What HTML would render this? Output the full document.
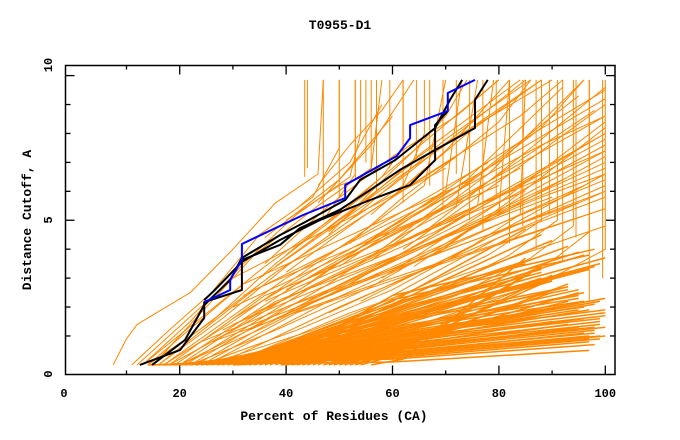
<!DOCTYPE html>
<html><head><meta charset="utf-8"><style>
html,body{margin:0;padding:0;background:#fff;}
svg{display:block;}
text{font-family:"Liberation Mono",monospace;font-weight:bold;fill:#000;}
</style></head><body>
<svg id="chart" width="680" height="440" viewBox="0 0 680 440" xmlns="http://www.w3.org/2000/svg">
<rect x="0" y="0" width="680" height="440" fill="#fff"/>
<text x="340" y="29" font-size="13" text-anchor="middle">T0955-D1</text>
<text x="334" y="420" font-size="13" text-anchor="middle">Percent of Residues (CA)</text>
<text x="31" y="220" font-size="13" text-anchor="middle" transform="rotate(-90 31 220)">Distance Cutoff, A</text>
<g id="series"></g>
<g id="axes"></g>
</svg>
<script>
const xTickValues = [0,10,20,30,40,50,60,70,80,90,100];
const xTickLabels = ["0","20","40","60","80","100"];
const xTickLabelValues = [0,20,40,60,80,100];
const yTickValues = [0,1,2,3,4,5,6,7,8,9,10];
const yTickLabels = ["0","5","10"];
const lowerStarts = [14,15,15,16,16,17,17,18,18,19,19,20,20,21,21,22,22,23,23,24,24,25,25,26,26,27,27,28,28,29,30,30,31,32,33,34,35,36,37,38,39,40,42,44,46,48,50,52,54,56,15,17,19,21,23,25,27,29,31,33,35,37,39,41,43,45,47,49,51,53];
const lowerMid = [0.1,0.2,0.3,0.35,0.4,0.5,0.55,0.6,0.7,0.75,0.8,0.9,0.95,1.0,1.1,1.15,1.2,1.3,1.35,1.4,1.5,1.55,1.6,1.7,1.75,1.8,1.9,2.0,2.1,2.2,0.3,0.5,0.7,0.9,1.1,1.3,1.5,1.7,1.9,2.1,0.4,0.6,0.8,1.0,1.2,0.6,0.5,0.4,0.3,0.2,0.25,0.45,0.65,0.85,1.05,1.25,1.45,1.65,1.85,2.05,2.25,2.4,0.35,0.55,0.75,0.95,0.7,0.6,0.5,0.4];
const lowerEndX = [97,98,99,100,96,95,93,90,88,85,97,98,99,100,96,95,93,90,88,85,97,98,99,100,96,95,93,90,88,85,97,98,99,100,96,95,93,90,88,85,97,98,99,100,96,95,93,90,88,85,97,98,99,100,96,95,93,90,88,85,97,98,99,100,96,95,93,90,88,85];
const lowerEndY = [0.5,0.7,0.9,1.0,1.1,1.3,1.4,1.5,1.7,1.8,1.9,2.1,2.2,2.3,2.5,2.6,2.7,2.9,3.0,3.1,3.3,3.4,3.5,3.7,3.8,3.9,4.1,4.3,4.5,4.7,0.9,1.2,1.5,1.8,2.1,2.4,2.7,3.0,3.3,3.6,1.0,1.3,1.6,1.9,2.2,2.5,2.8,3.1,3.4,3.7,0.8,1.1,1.4,1.7,2.0,2.3,2.6,2.9,3.2,3.5,3.8,4.0,1.0,1.3,1.6,1.9,2.2,2.5,2.8,3.1];
const midStartX = [12,14,16,18,20,22,24,13,15,17,19,21,23,25,27,29];
const midKneeX = [30,32,34,36,38,40,42,36,38,40,42,44,46,48,50,52];
const midKneeY = [3.0,2.8,2.6,2.4,2.2,2.0,1.8,3.4,3.2,3.0,2.8,2.6,2.4,2.2,2.0,1.8];
const midEndX = [70,75,80,85,90,95,100,68,72,78,84,88,92,96,100,100];
const midEndY = [6.8,6.4,6.2,6.0,5.8,5.6,5.4,7.6,7.2,7.0,6.8,6.6,6.4,6.2,6.0,4.8];
const urStartX = [30,32,34,36,38,40,42,44,46,48,50,52,54,56,58,60,35,38,40,44,30,28,26,33,62,64,66,68,48,52,36,42,46,56,60];
const urStartY = [2.0,2.4,1.8,2.2,1.6,2.6,2.0,3.0,2.4,1.8,3.4,2.8,2.2,3.6,3.0,2.4,3.0,3.4,3.8,4.2,1.4,1.0,0.8,1.2,4.0,3.4,4.6,3.8,4.6,5.0,4.4,5.4,5.6,5.2,5.8];
const urMidX = [65,66,68,70,70,72,72,72,74,74,74,76,78,78,80,80,60,62,60,64,64,62,60,66,82,84,84,86,66,70,50,52,56,70,74];
const urMidY = [5.0,5.5,4.6,4.9,4.2,5.6,4.6,6.0,5.0,4.0,6.4,5.4,4.4,6.6,5.6,4.4,6.2,6.6,6.8,7.0,4.0,3.4,3.0,3.8,6.6,5.8,7.2,6.2,7.4,7.8,6.4,7.0,7.6,7.4,8.0];
const urEndX = [100,100,100,100,100,98,100,95,100,100,92,100,100,96,100,100,85,88,80,90,100,100,100,100,100,100,100,100,84,86,60,58,64,82,88];
const urEndY = [8.6,9.2,7.8,8.0,7.2,8.8,7.0,9.3,7.6,6.6,9.6,8.0,6.2,9.85,8.4,5.8,9.85,9.85,9.85,9.85,6.8,6.0,5.4,6.4,9.0,7.4,9.6,8.2,9.85,9.85,8.6,9.0,9.85,9.85,9.85];
const vertX = [43.5,47,50,53,55,57,59.5,62,64.5,67,69.5,72,74.5,77,79.5,82,84.5,87,89.5,92,94.5,97,99.5];
const vertBottom = [6.5,5.0,5.8,6.4,7.0,6.0,6.8,5.6,7.2,6.2,5.4,6.6,5.0,4.6,5.8,4.2,4.8,4.0,5.2,3.6,4.4,2.2,3.0];
const vertTop = 9.85;
const upperCurves = [
 [[7.5,0],[10,0.9],[12,1.4],[22,2.5],[30,4],[38,5.6],[46,6.6],[47,9.85]],
 [[11,0],[18,1.2],[26,2.5],[35,4.5],[45,5.8],[50,7.5],[50,9.85]],
 [[13,0],[22,1.5],[32,3.5],[42,5.2],[52,6.5],[54,8],[54,9.85]],
 [[15,0],[24,1.8],[34,3.8],[46,5.5],[56,6.8],[58,9.85]],
 [[14,0],[26,1.5],[38,3.5],[50,5.2],[58,6.5],[62,7.5],[62,9.85]],
 [[16,0],[28,1.6],[40,3.4],[52,5],[62,6.2],[66,8],[66,9.85]],
 [[17,0],[30,1.5],[44,3.3],[56,4.8],[66,6.2],[70,9.85]],
 [[18,0],[32,1.4],[46,3],[58,4.6],[70,6],[73,9.85]],
 [[20,0],[34,1.3],[48,2.8],[62,4.5],[72,5.5],[76,9.85]],
 [[20,0],[36,1.3],[52,2.8],[66,4.3],[76,5.5],[79,9.85]],
 [[22,0],[38,1.2],[56,2.7],[70,4.2],[80,5.3],[82,9.85]],
 [[24,0],[42,1.2],[60,2.6],[74,4],[84,5.2],[85,9.85]],
 [[25,0],[45,1.2],[64,2.6],[78,3.8],[88,5],[88,9.85]],
 [[26,0],[48,1.1],[68,2.5],[82,3.8],[91,5],[91,9.85]],
 [[28,0],[52,1.1],[72,2.4],[86,3.7],[94,4.8],[94,9.85]],
 [[30,0],[56,1.1],[76,2.4],[90,3.6],[97,4.6],[97,9.85]],
 [[32,0],[60,1.1],[80,2.3],[92,3.2],[100,4],[100,9.85]],
 [[36,3.5],[48,5.5],[60,7.2],[72,8.6],[80,9.85]],
 [[40,3.2],[55,5.2],[70,7.0],[84,8.6],[92,9.85]],
 [[44,2.8],[60,4.8],[76,6.8],[90,8.4],[100,9.5]],
 [[30,1.6],[50,3.8],[70,5.8],[88,7.6],[100,8.6]],
 [[28,1.2],[50,3.2],[72,5.2],[90,6.6],[100,7.4]],
 [[24,0.8],[48,2.6],[70,4.4],[88,5.8],[100,6.6]],
 [[46,6.2],[52,7.6],[58,8.8],[62,9.85]],
 [[48,4.5],[56,6],[64,7.4],[70,8.6],[74,9.85]],
 [[52,4.2],[62,5.8],[72,7.2],[80,8.4],[86,9.85]],
 [[58,4.0],[68,5.4],[78,6.8],[88,8.2],[96,9.85]],
 [[44,6.8],[44,9.85]],
 [[47,5.0],[53,6.6],[53,9.85]],
 [[40,5.0],[50,6.2],[56,6.6],[56,9.85]]
];
const blueX = [24.6,29.5,29.5,31.7,31.7,43.2,51.1,51.1,60.8,63.3,63.3,70.4,70.4,75.5];
const blueY = [2.17,2.59,2.94,3.63,4.18,5.18,5.77,6.22,7.22,7.84,8.29,8.78,9.40,9.85];
const black1X = [12.5,20.1,24.6,24.6,31.7,31.7,38.9,42.6,50.1,55.8,61.4,68,75.5,75.5,77.9];
const black1Y = [0,0.52,1.62,2.17,2.59,3.63,4.15,4.73,5.36,6.05,6.74,7.43,8.19,9.16,9.85];
const black2X = [14.8,21,24.6,29.5,31.7,38.9,43.6,51.1,53.9,60.5,68,70.8,73.1];
const black2Y = [0,0.86,2.07,2.94,3.7,4.49,4.94,5.7,6.39,7.08,8.19,9.16,9.85];
const black3X = [24.6,26.6,31.7,38.9,46.4,55.8,63.3,68,68,70.4];
const black3Y = [2.24,2.59,3.56,4.32,5.01,5.7,6.22,7.08,8.29,8.78];

const NS = "http://www.w3.org/2000/svg";
function xs(v){ return 73.3 + 5.32 * v; }
function ys(v){ return 364.9 - 28.93 * v; }
const FL = 65.5, FR = 615, FT = 65.5, FB = 374.5;
const series = document.getElementById('series');
const axes = document.getElementById('axes');
function poly(parent, pts, color, w){
  const p = document.createElementNS(NS,'polyline');
  p.setAttribute('points', pts.map(q => xs(q[0]).toFixed(1)+','+ys(q[1]).toFixed(1)).join(' '));
  p.setAttribute('fill','none');
  p.setAttribute('stroke',color);
  p.setAttribute('stroke-width',w);
  p.setAttribute('stroke-linejoin','round');
  parent.appendChild(p);
  return p;
}
const OR = '#ff8800';
for (let i=0;i<lowerStarts.length;i++){
  const el = poly(series, [[lowerStarts[i],0],[Math.max(60,lowerStarts[i]+6),lowerMid[i]],[lowerEndX[i],lowerEndY[i]]], OR, 1.5);
  
  
}
for (let i=0;i<midStartX.length;i++){
  const el = poly(series, [[midStartX[i],0],[midKneeX[i],midKneeY[i]],[midEndX[i],midEndY[i]]], OR, 1);
  
  
}
for (let i=0;i<urStartX.length;i++){
  const el = poly(series, [[urStartX[i],urStartY[i]],[urMidX[i],urMidY[i]],[urEndX[i],urEndY[i]]], OR, 1);
  
  
}
for (let i=0;i<vertX.length;i++){
  const el = poly(series, [[vertX[i],vertBottom[i]],[vertX[i],vertTop]], OR, 1);
  
  
}
for (const c of upperCurves){
  const el = poly(series, c, OR, 1);
  
  
}
function zip(a,b){ return a.map((v,i)=>[v,b[i]]); }
let el;
el = poly(series, zip(black1X,black1Y), '#000', 2);


el = poly(series, zip(black2X,black2Y), '#000', 2);


el = poly(series, zip(black3X,black3Y), '#000', 2);


el = poly(series, zip(blueX,blueY), '#0000ff', 2);



function line(x1,y1,x2,y2){
  const l = document.createElementNS(NS,'line');
  l.setAttribute('x1',x1); l.setAttribute('y1',y1); l.setAttribute('x2',x2); l.setAttribute('y2',y2);
  l.setAttribute('stroke','#000'); l.setAttribute('stroke-width','1.3');
  axes.appendChild(l);
  return l;
}
const frame = document.createElementNS(NS,'rect');
frame.setAttribute('x',FL); frame.setAttribute('y',FT);
frame.setAttribute('width',FR-FL); frame.setAttribute('height',FB-FT);
frame.setAttribute('fill','none'); frame.setAttribute('stroke','#000'); frame.setAttribute('stroke-width','1.5');


axes.appendChild(frame);
for (const v of xTickValues){
  if (v===0) continue;
  const len = (v%20===0) ? 9 : 4;
  let t = line(xs(v),FB,xs(v),FB-len);
  
  
  t = line(xs(v),FT,xs(v),FT+len);
  
  
}
for (const v of yTickValues){
  if (v===0) continue;
  const len = (v%5===0) ? 9 : 5;
  let t = line(FL,ys(v),FL+len,ys(v));
  
  
  t = line(FR,ys(v),FR-len,ys(v));
  
  
}
xTickLabels.forEach((s,i)=>{
  const t = document.createElementNS(NS,'text');
  const v = xTickLabelValues[i];
  t.setAttribute('x', v===0 ? 64 : xs(v));
  t.setAttribute('y', 397);
  t.setAttribute('font-size','12');
  t.setAttribute('text-anchor','middle');
  t.textContent = s;
  
  
  axes.appendChild(t);
});
const yLabelPos = [374, 220, 65];
yTickLabels.forEach((s,i)=>{
  const t = document.createElementNS(NS,'text');
  const px = 52, py = yLabelPos[i];
  t.setAttribute('x', px);
  t.setAttribute('y', py);
  t.setAttribute('font-size','12');
  t.setAttribute('text-anchor','middle');
  t.setAttribute('transform','rotate(-90 '+px+' '+py+')');
  t.textContent = s;
  
  
  axes.appendChild(t);
});
</script>
</body></html>
